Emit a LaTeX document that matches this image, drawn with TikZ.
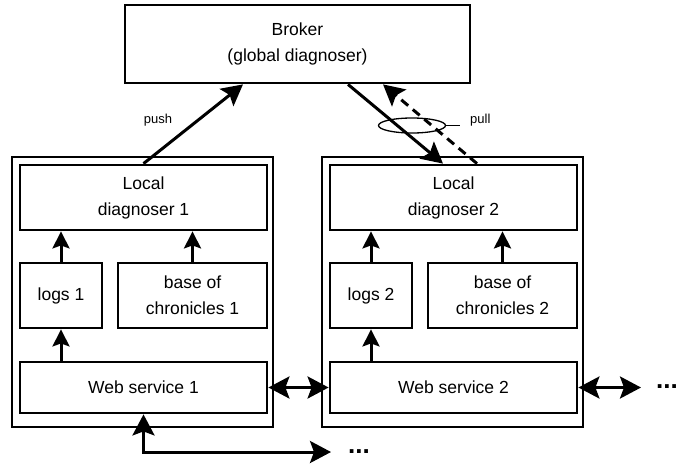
\documentclass[tikz,border=0pt]{standalone}
\usepackage{fontspec}
\setmainfont{Liberation Sans}
\usetikzlibrary{arrows.meta,shapes.geometric,calc}
\begin{document}
\begin{tikzpicture}[x=1pt,y=-1pt,
  box/.style={draw,line width=2.8pt,rectangle,inner sep=0pt,align=center,
    font=\fontsize{17.5}{26}\selectfont},
  outer/.style={draw,line width=1.3pt,rectangle,inner sep=0pt},
  arr/.style={line width=3pt,-{Stealth[length=17pt,width=17pt,inset=3pt]}},
  barr/.style={line width=3pt,-{Stealth[length=21pt,width=22pt,inset=4pt]}},
  darr/.style={line width=3pt,{Stealth[length=21pt,width=22pt,inset=4pt]}-{Stealth[length=21pt,width=22pt,inset=4pt]}},
  small/.style={font=\fontsize{13}{15}\selectfont},
  dots/.style={font=\fontsize{26}{26}\selectfont\bfseries,inner sep=0pt,anchor=base west}]
\useasboundingbox (0,0) rectangle (679,463);
\node[box,minimum width=345,minimum height=78] (broker) at (297.5,44) {Broker\\(global diagnoser)};
% group 1
\node[outer,minimum width=261,minimum height=270] (out1) at (142.5,292) {};
\node[box,minimum width=247,minimum height=65] (local1) at (143.5,197.5) {Local\\diagnoser 1};
\node[box,minimum width=82,minimum height=65] (logs1) at (61,295.5) {logs 1};
\node[box,minimum width=149,minimum height=65] (base1) at (192.5,295.5) {base of\\chronicles 1};
\node[box,minimum width=247,minimum height=51] (web1) at (143.5,387.5) {Web service 1};
% group 2
\node[outer,minimum width=261,minimum height=270] (out2) at (452.5,292) {};
\node[box,minimum width=247,minimum height=65] (local2) at (453.5,197.5) {Local\\diagnoser 2};
\node[box,minimum width=82,minimum height=65] (logs2) at (371,295.5) {logs 2};
\node[box,minimum width=149,minimum height=65] (base2) at (502.5,295.5) {base of\\chronicles 2};
\node[box,minimum width=247,minimum height=51] (web2) at (453.5,387.5) {Web service 2};
% internal arrows
\draw[arr] (logs1.north) -- (logs1.north |- local1.south);
\draw[arr] (base1.north) -- (base1.north |- local1.south);
\draw[arr] (web1.north -| logs1) -- (logs1.south);
\draw[arr] (logs2.north) -- (logs2.north |- local2.south);
\draw[arr] (base2.north) -- (base2.north |- local2.south);
\draw[arr] (web2.north -| logs2) -- (logs2.south);
% horizontal
\draw[darr] (web1.east) -- (web2.west);
\coordinate (rend) at (641,387.5);
\draw[darr] (web2.east) -- (rend);
\node[dots] (dotsr) at (656,388) {...};
\coordinate (bend) at (331,452);
\draw[darr] (web1.south) |- (bend);
\node[dots] (dotsb) at (348,453) {...};
% push / pull
\draw[barr] (local1.north) -- ([xshift=-54.5pt]broker.south);
\node[small] (push) at (158,120) {push};
\draw[barr] ([xshift=50.5pt]broker.south) -- ([xshift=-10.5pt]local2.north);
\draw[barr,dashed,dash pattern=on 9pt off 6pt] ([xshift=23.5pt]local2.north) -- ([xshift=85.5pt]broker.south);
\node[draw,line width=1.3pt,ellipse,minimum width=67,minimum height=15,inner sep=0pt] (ell) at (412,125.5) {};
\node[small,anchor=west,inner sep=0pt] (pull) at (470,120) {pull};
\coordinate (pl) at (460,125.5);
\draw[line width=1.3pt] (ell.east) -- (pl);
\end{tikzpicture}
\end{document}
